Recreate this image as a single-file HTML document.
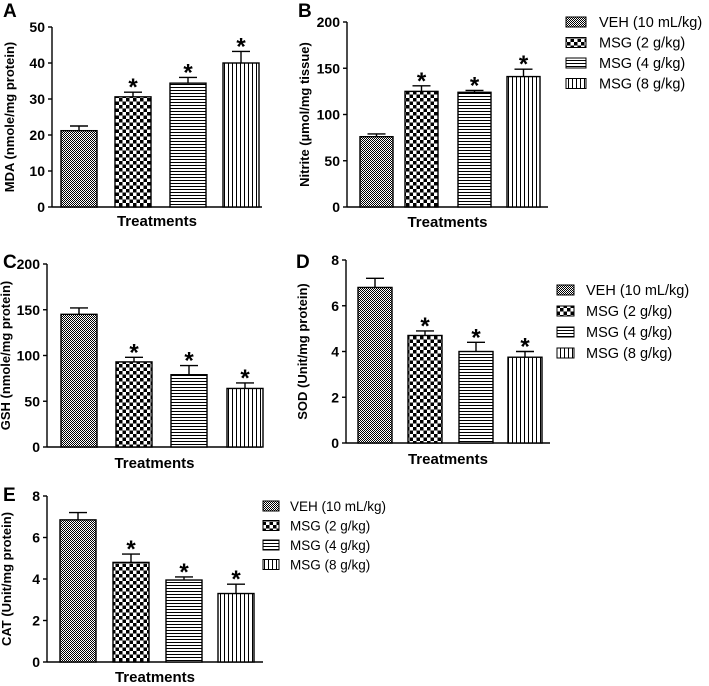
<!DOCTYPE html>
<html><head><meta charset="utf-8">
<style>
html,body{margin:0;padding:0;background:#fff;}
svg{display:block;font-family:"Liberation Sans",Arial,sans-serif;}
</style></head>
<body>
<svg id="fig" width="709" height="686" viewBox="0 0 709 686">
<defs>
<pattern id="p0" width="2" height="2" patternUnits="userSpaceOnUse"><rect width="2" height="2" fill="#fff"/><rect width="1" height="1" fill="#000"/><rect x="1" y="1" width="1" height="1" fill="#000"/></pattern>
<pattern id="p1" width="7" height="7" patternUnits="userSpaceOnUse"><rect width="7" height="7" fill="#fff"/><rect width="3.5" height="3.5" fill="#000"/><rect x="3.5" y="3.5" width="3.5" height="3.5" fill="#000"/></pattern>
<pattern id="p2" width="4" height="3" patternUnits="userSpaceOnUse"><rect width="4" height="3" fill="#fff"/><rect width="4" height="1" fill="#000"/></pattern>
<pattern id="p3" width="4" height="4" patternUnits="userSpaceOnUse"><rect width="4" height="4" fill="#fff"/><rect width="1" height="4" fill="#000"/></pattern>
</defs>
</svg>
<script>
const groups = ["VEH (10 mL/kg)","MSG (2 g/kg)","MSG (4 g/kg)","MSG (8 g/kg)"];
const mdaValues = [21.2, 30.6, 34.4, 40.0];
const mdaErrors = [1.3, 1.3, 1.6, 3.2];
const nitriteValues = [76, 125, 124, 141];
const nitriteErrors = [3, 6, 2, 8];
const gshValues = [145, 93, 79, 64];
const gshErrors = [7, 5, 10, 6];
const sodValues = [6.8, 4.7, 4.0, 3.75];
const sodErrors = [0.4, 0.2, 0.4, 0.25];
const catValues = [6.85, 4.8, 3.95, 3.3];
const catErrors = [0.35, 0.4, 0.15, 0.45];
const mdaTicks = [0,10,20,30,40,50];
const nitriteTicks = [0,50,100,150,200];
const gshTicks = [0,50,100,150,200];
const sodTicks = [0,2,4,6,8];
const catTicks = [0,2,4,6,8];
const sig = [false,true,true,true];

const NS="http://www.w3.org/2000/svg";
const svg=document.getElementById('fig');
function mk(tag,attrs,parent,text){const e=document.createElementNS(NS,tag);for(const k in attrs)e.setAttribute(k,attrs[k]);if(text!==undefined)e.textContent=text;(parent||svg).appendChild(e);return e;}

function panel(cfg){
  const g=mk('g',{});
  
  
  const y=v=>cfg.y0-(v/cfg.max)*(cfg.y0-cfg.yTop);
  const lt=mk('text',{x:cfg.lx,y:cfg.ly,'font-size':19,'font-weight':'bold'},g,cfg.letter);
  
  
  const ya=mk('line',{x1:cfg.ax,y1:cfg.yTop,x2:cfg.ax,y2:cfg.y0,stroke:'#000','stroke-width':1.4},g);
  
  
  const xa=mk('line',{x1:cfg.ax,y1:cfg.y0,x2:cfg.axEnd,y2:cfg.y0,stroke:'#000','stroke-width':1.4},g);
  
  
  cfg.ticks.forEach(t=>{
    mk('line',{x1:cfg.ax-4,y1:y(t),x2:cfg.ax,y2:y(t),stroke:'#000','stroke-width':1.4},g);
    const tl=mk('text',{x:cfg.ax-7,y:y(t)+5,'font-size':14,'font-weight':'bold','text-anchor':'end'},g,String(t));
    
    
  });
  const yt=mk('text',{x:0,y:0,'font-size':13,'font-weight':'bold','text-anchor':'middle',transform:`translate(${cfg.ytx},${(cfg.yTop+cfg.y0)/2}) rotate(-90)`},g,cfg.ytitle);
  
  
  const xt=mk('text',{x:(cfg.ax+cfg.axEnd)/2,y:cfg.xty,'font-size':15,'font-weight':'bold','text-anchor':'middle'},g,'Treatments');
  
  
  cfg.values.forEach((v,i)=>{
    const x1=cfg.bx[i], w=cfg.bw;
    const top=y(v), etop=y(v+cfg.errors[i]), cx=x1+w/2;
    const b=mk('rect',{x:x1,y:top,width:w,height:cfg.y0-top,fill:`url(#p${i})`,stroke:'#000','stroke-width':1.4},g);
    
    
    const e=mk('path',{d:`M${cx},${top}V${etop}M${cx-9},${etop}H${cx+9}`,stroke:'#000','stroke-width':1.4,fill:'none'},g);
    
    
    if(sig[i]){
      const s=mk('text',{x:cx,y:etop+12,'font-size':24,'font-weight':'bold','text-anchor':'middle'},g,'*');
      
      
      s.setAttribute('transform',`translate(0,-9)`);
    }
  });
  if(cfg.legend){
    const L=cfg.legend;
    const lg=mk('g',{},g);
    
    
    groups.forEach((n,i)=>{
      const cy=L.y+i*L.dy;
      const sw=mk('rect',{x:L.x,y:cy-5,width:L.sw,height:10,fill:`url(#p${i})`,stroke:'#000','stroke-width':1},lg);
      
      
      const t=mk('text',{x:L.tx,y:cy+5,'font-size':L.fs},lg,n);
      
      
    });
  }
}

panel({letter:'A',lx:3,ly:17,ax:52,axEnd:262,yTop:27,y0:207,max:50,ticks:mdaTicks,values:mdaValues,errors:mdaErrors,bx:[61,115,170,223],bw:36,ytitle:'MDA (nmole/mg protein)',ytx:14,xty:226});
panel({letter:'B',lx:298,ly:17,ax:347,axEnd:548,yTop:22,y0:207,max:200,ticks:nitriteTicks,values:nitriteValues,errors:nitriteErrors,bx:[360,405,458,507],bw:33,ytitle:'Nitrite (µmol/mg tissue)',ytx:309,xty:227,
  legend:{x:566,sw:20,tx:599,y:22,dy:20.5,fs:14.5}});
panel({letter:'C',lx:3,ly:268,ax:47,axEnd:262,yTop:264,y0:447,max:200,ticks:gshTicks,values:gshValues,errors:gshErrors,bx:[61,116,171,227],bw:36,ytitle:'GSH (nmole/mg protein)',ytx:10,xty:468});
panel({letter:'D',lx:296,ly:268,ax:346,axEnd:550,yTop:260,y0:443,max:8,ticks:sodTicks,values:sodValues,errors:sodErrors,bx:[358,408,459,508],bw:34,ytitle:'SOD (Unit/mg protein)',ytx:307,xty:464,
  legend:{x:557,sw:17,tx:586,y:290,dy:21,fs:14.5}});
panel({letter:'E',lx:3,ly:501,ax:47,axEnd:263,yTop:496,y0:662,max:8,ticks:catTicks,values:catValues,errors:catErrors,bx:[60,113,166,218],bw:36,ytitle:'CAT (Unit/mg protein)',ytx:11,xty:682,
  legend:{x:263,sw:16,tx:290,y:506,dy:19.5,fs:13.5}});
</script>
</body></html>
